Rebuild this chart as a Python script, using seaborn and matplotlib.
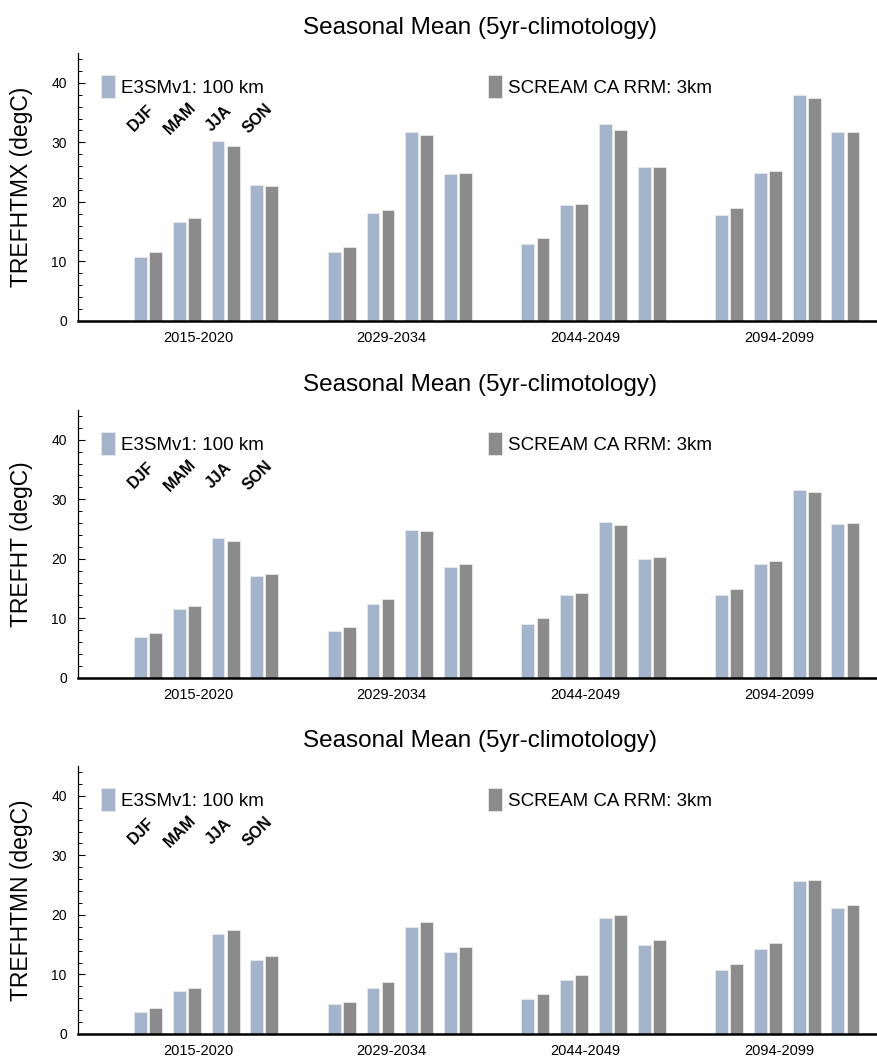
import numpy as np
import pandas as pd
import matplotlib
matplotlib.use("Agg")
import matplotlib.pyplot as plt
import seaborn as sns
from matplotlib.ticker import MultipleLocator

sns.set_style("ticks")
plt.rcParams["font.family"] = ["Liberation Sans", "DejaVu Sans"]
for key in ["text.color", "axes.labelcolor", "xtick.color", "ytick.color", "axes.edgecolor"]:
    plt.rcParams[key] = "black"

# ---------------- data ----------------
periods = ["2015-2020", "2029-2034", "2044-2049", "2094-2099"]
seasons = ["DJF", "MAM", "JJA", "SON"]
models = ["E3SMv1: 100 km", "SCREAM CA RRM: 3km"]
variables = ["TREFHTMX", "TREFHT", "TREFHTMN"]
title = "Seasonal Mean (5yr-climotology)"
unit = "degC"

trefhtmx_e3sm = [10.7, 16.7, 30.2, 22.8, 11.6, 18.1, 31.8, 24.6,
                 12.9, 19.4, 33.0, 25.9, 17.8, 24.8, 38.0, 31.8]
trefhtmx_scream = [11.6, 17.3, 29.4, 22.7, 12.5, 18.7, 31.2, 24.8,
                   13.9, 19.7, 32.1, 25.9, 19.0, 25.2, 37.5, 31.7]
trefht_e3sm = [6.8, 11.6, 23.5, 17.1, 7.9, 12.5, 24.9, 18.7,
               9.0, 13.9, 26.2, 19.9, 13.9, 19.2, 31.6, 25.9]
trefht_scream = [7.6, 12.1, 23.0, 17.4, 8.6, 13.2, 24.6, 19.1,
                 10.0, 14.3, 25.7, 20.3, 14.9, 19.7, 31.3, 26.0]
trefhtmn_e3sm = [3.7, 7.2, 16.8, 12.4, 5.0, 7.8, 17.9, 13.7,
                 5.9, 9.1, 19.5, 14.9, 10.7, 14.3, 25.7, 21.1]
trefhtmn_scream = [4.4, 7.8, 17.4, 13.1, 5.4, 8.8, 18.8, 14.6,
                   6.7, 9.9, 20.0, 15.8, 11.7, 15.2, 25.9, 21.7]

series = {
    "TREFHTMX": (trefhtmx_e3sm, trefhtmx_scream),
    "TREFHT": (trefht_e3sm, trefht_scream),
    "TREFHTMN": (trefhtmn_e3sm, trefhtmn_scream),
}

colors = {models[0]: "#A2B5CD", models[1]: "#8B8B8B"}

# category order: 4 seasons per period plus one empty spacer slot between periods
order = []
for gi, p in enumerate(periods):
    for s in seasons:
        order.append(f"{p} {s}")
    if gi < len(periods) - 1:
        order.append(f"gap{gi}")

# ---------------- figure ----------------
fig = plt.figure(figsize=(8.77, 10.58), dpi=100)
bottoms = [0.6966, 0.3592, 0.0227]
left, width, height = 0.0889, 0.917, 0.2533

for var, bottom in zip(variables, bottoms):
    e3sm, scream = series[var]
    rows = []
    k = 0
    for p in periods:
        for s in seasons:
            rows.append({"slot": f"{p} {s}", "model": models[0], "value": e3sm[k]})
            rows.append({"slot": f"{p} {s}", "model": models[1], "value": scream[k]})
            k += 1
    df = pd.DataFrame(rows)

    ax = fig.add_axes([left, bottom, width, height])
    sns.barplot(data=df, x="slot", y="value", hue="model", order=order,
                hue_order=models, palette=colors, saturation=1,
                width=0.78, gap=0.15, legend=False, errorbar=None,
                edgecolor="#e8e8e8", linewidth=0.6, ax=ax)

    ax.set_xlim(-1.81, 18.95)
    ax.set_ylim(0, 45)
    ax.yaxis.set_major_locator(MultipleLocator(10))
    ax.yaxis.set_minor_locator(MultipleLocator(2))
    ax.tick_params(axis="y", which="major", direction="in", length=5,
                   width=0.8, labelsize=10, pad=8)
    ax.tick_params(axis="y", which="minor", direction="in", length=3, width=0.7)

    tick_pos = [gi * 5 + 1.29 for gi in range(len(periods))]
    ax.set_xticks(tick_pos)
    ax.set_xticklabels(periods)
    ax.tick_params(axis="x", which="major", direction="in", length=4,
                   width=0.8, labelsize=10.5, pad=7)

    sns.despine(ax=ax)
    ax.spines["bottom"].set_linewidth(1.8)
    ax.spines["left"].set_linewidth(0.9)

    ax.set_xlabel("")
    ax.set_ylabel(f"{var} ({unit})", fontsize=16.5)
    ax.yaxis.set_label_coords(-0.056, 0.5)
    ax.set_title(title, fontsize=17.5, pad=14)

    for i, s in enumerate(seasons):
        ax.text(i - 0.18, 34.0, s, rotation=45, ha="center", va="center",
                fontsize=11.5, fontweight="bold")

    h = ax.containers
    common = dict(loc="center left", frameon=False, fontsize=13.5,
                  handlelength=0.75, handleheight=1.45, handletextpad=0.3,
                  borderpad=0, borderaxespad=0)
    leg1 = ax.legend([h[0]], [models[0]], bbox_to_anchor=(0.0286, 0.875), **common)
    ax.add_artist(leg1)
    ax.legend([h[1]], [models[1]], bbox_to_anchor=(0.51, 0.875), **common)

fig.savefig("out.png", dpi=100)
